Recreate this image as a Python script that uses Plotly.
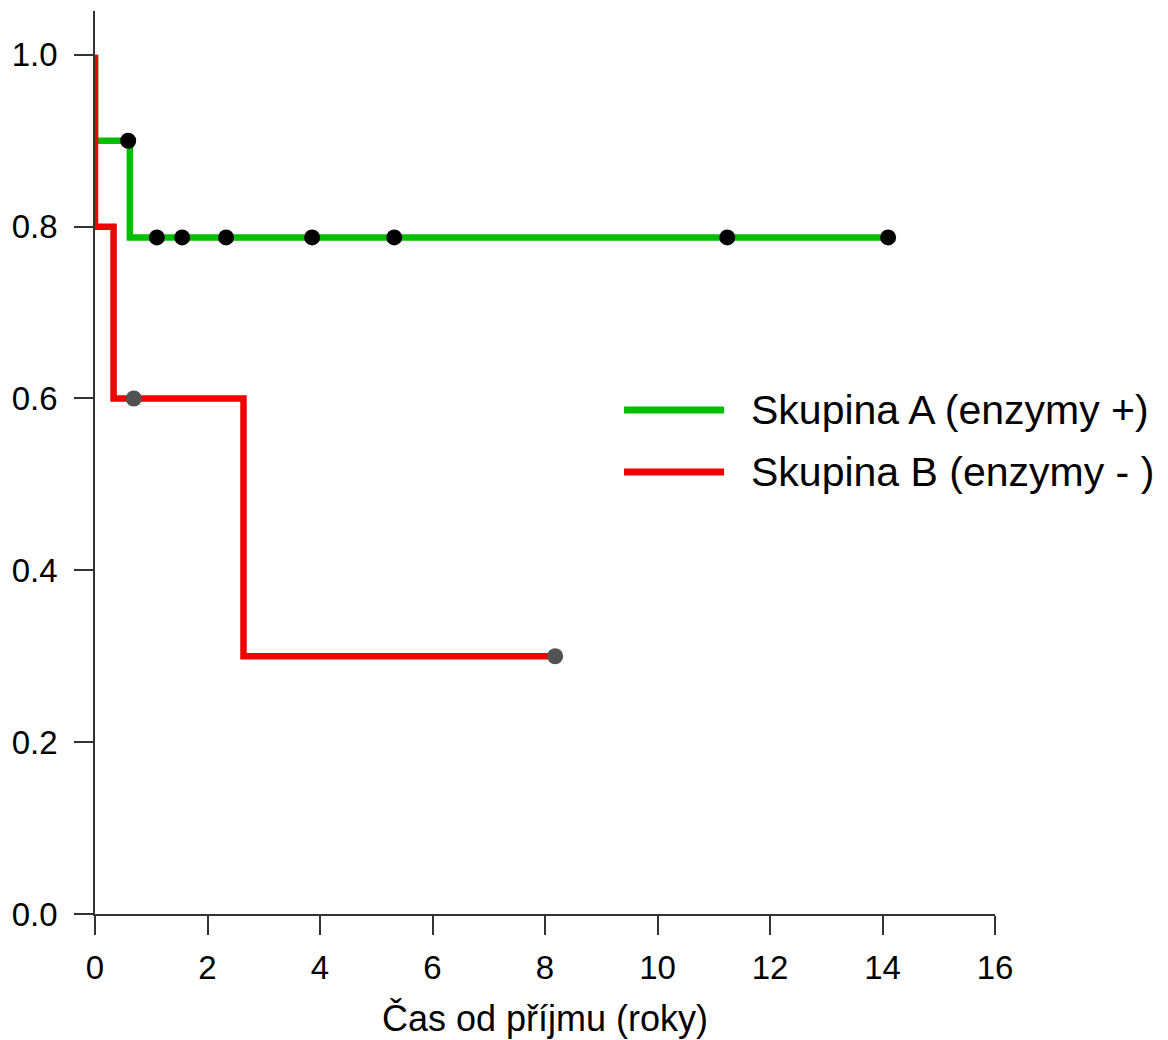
import plotly.graph_objects as go

# Kaplan-Meier step data (time in years, survival probability)
time_A = [0.0, 0.0, 0.62, 14.10]
surv_A = [1.0, 0.9, 0.7875, 0.7875]
cens_time_A = [0.59, 1.10, 1.55, 2.33, 3.86, 5.32, 11.24, 14.10]
cens_surv_A = [0.9, 0.7875, 0.7875, 0.7875, 0.7875, 0.7875, 0.7875, 0.7875]

time_B = [0.0, 0.0, 0.33, 2.64, 8.18]
surv_B = [1.0, 0.8, 0.6, 0.3, 0.3]
cens_time_B = [0.69, 8.18]
cens_surv_B = [0.6, 0.3]

name_A = "Skupina A (enzymy +)"
name_B = "Skupina B (enzymy - )"
x_title = "Čas od příjmu (roky)"
x_ticks = [0, 2, 4, 6, 8, 10, 12, 14, 16]
y_ticks = [0.0, 0.2, 0.4, 0.6, 0.8, 1.0]

GREEN = "#00BE00"
RED = "#F00000"
FONT = "Liberation Sans, Arial, sans-serif"

fig = go.Figure()
fig.add_trace(go.Scatter(x=time_A, y=surv_A, mode="lines", line_shape="hv",
                         line=dict(color=GREEN, width=6.5), name=name_A,
                         showlegend=False, cliponaxis=False))
fig.add_trace(go.Scatter(x=time_B, y=surv_B, mode="lines", line_shape="hv",
                         line=dict(color=RED, width=6.5), name=name_B,
                         showlegend=False, cliponaxis=False))
fig.add_trace(go.Scatter(x=cens_time_A, y=cens_surv_A, mode="markers",
                         marker=dict(color="#000000", size=16), showlegend=False,
                         cliponaxis=False))
fig.add_trace(go.Scatter(x=cens_time_B, y=cens_surv_B, mode="markers",
                         marker=dict(color="#525252", size=16), showlegend=False,
                         cliponaxis=False))

# manual legend (long line samples like the reference)
legend_items = [(name_A, GREEN, 0.5581), (name_B, RED, 0.4895)]
for label, col, yy in legend_items:
    fig.add_shape(type="line", xref="paper", yref="paper", x0=0.5878, x1=0.6989,
                  y0=yy, y1=yy, line=dict(color=col, width=7))
    fig.add_annotation(xref="paper", yref="paper", x=0.7267, y=yy, text=label,
                       showarrow=False, xanchor="left", yanchor="middle",
                       font=dict(family=FONT, size=41, color="#000000"))

axis_common = dict(showline=True, linecolor="#333333", linewidth=1.5,
                   ticks="outside", ticklen=19, tickwidth=1.5, tickcolor="#333333",
                   showgrid=False, zeroline=False,
                   tickfont=dict(family=FONT, size=33, color="#000000"))

fig.update_xaxes(range=[0, 16], tickvals=x_ticks, ticktext=[str(v) for v in x_ticks],
                 ticklabelstandoff=5,
                 title=dict(text=x_title, font=dict(family=FONT, size=36, color="#000000"),
                            standoff=20),
                 **axis_common)
fig.update_yaxes(range=[0, 1.051], tickvals=y_ticks, tickformat=".1f",
                 ticklabelstandoff=10, **axis_common)

fig.update_layout(width=1168, height=1040, autosize=False,
                  margin=dict(l=95, r=173, t=11, b=126, autoexpand=False),
                  plot_bgcolor="white", paper_bgcolor="white",
                  font=dict(family=FONT, color="#000000"))

fig.write_html("out.html")
